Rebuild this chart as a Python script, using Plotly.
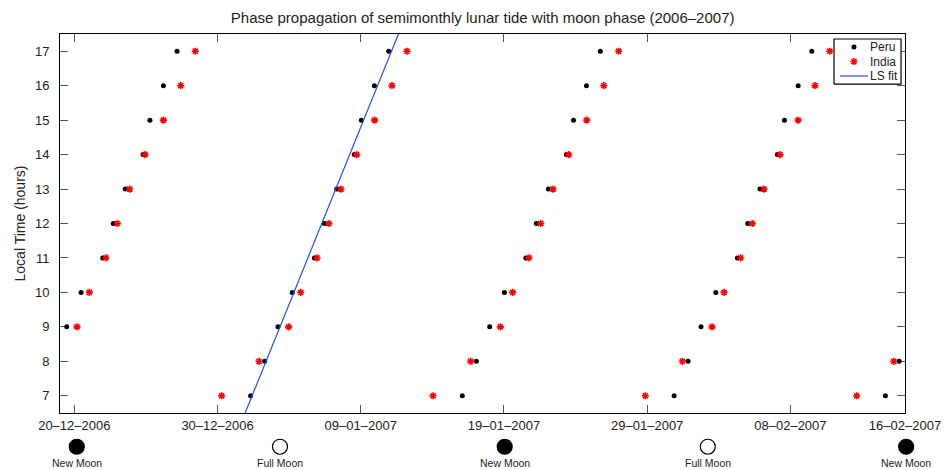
import numpy as np
import pandas as pd
import plotly.graph_objects as go

# Reference date for day offsets
BASE = pd.Timestamp("2006-12-19")
END = pd.Timestamp("2007-02-16")

# Peru: day offset (from BASE) at which each local hour of tide maximum is reached
peru_hours = [9, 10, 11, 12, 13, 14, 15, 16, 17,
              7, 8, 9, 10, 11, 12, 13, 14, 15, 16, 17,
              7, 8, 9, 10, 11, 12, 13, 14, 15, 16, 17,
              7, 8, 9, 10, 11, 12, 13, 14, 15, 16, 17,
              7, 8]
peru_days = [0.47, 1.47, 2.98, 3.72, 4.56, 5.80, 6.28, 7.22, 8.17,
             13.31, 14.29, 15.22, 16.22, 17.76, 18.46, 19.32, 20.55, 21.04, 21.95, 22.95,
             28.09, 29.07, 30.00, 31.03, 32.52, 33.26, 34.10, 35.36, 35.85, 36.76, 37.73,
             42.88, 43.85, 44.76, 45.79, 47.30, 48.02, 48.88, 50.09, 50.58, 51.54, 52.49,
             57.63, 58.59]

# India
india_hours = [9, 10, 11, 12, 13, 14, 15, 16, 17,
               7, 8, 9, 10, 11, 12, 13, 14, 15, 16, 17,
               7, 8, 9, 10, 11, 12, 13, 14, 15, 16, 17,
               7, 8, 9, 10, 11, 12, 13, 14, 15, 16, 17,
               7, 8]
india_days = [1.19, 2.05, 3.21, 4.00, 4.87, 5.94, 7.22, 8.43, 9.45,
              11.29, 13.90, 15.97, 16.81, 17.95, 18.78, 19.62, 20.72, 21.97, 23.18, 24.23,
              26.05, 28.68, 30.75, 31.61, 32.75, 33.57, 34.43, 35.52, 36.78, 37.97, 39.01,
              40.87, 43.46, 45.53, 46.37, 47.53, 48.35, 49.16, 50.28, 51.54, 52.72, 53.75,
              55.63, 58.22]

# Moon phases (day offsets from BASE)
moon_days = [1.17, 15.36, 31.05, 45.23, 59.08]
moon_names = ["New Moon", "Full Moon", "New Moon", "Full Moon", "New Moon"]

# Axis ticks
tick_dates = ["2006-12-20", "2006-12-30", "2007-01-09", "2007-01-19",
              "2007-01-29", "2007-02-08", "2007-02-16"]
tick_text = ["20–12–2006", "30–12–2006", "09–01–2007", "19–01–2007",
             "29–01–2007", "08–02–2007", "16–02–2007"]
hour_ticks = list(range(7, 18))


def to_dates(days):
    return BASE + pd.to_timedelta(np.asarray(days, dtype=float), unit="D")


def to_paper_x(days):
    """Fraction of the time axis span for a day offset (for marks outside the axes)."""
    span = (END - BASE) / pd.Timedelta(days=1)
    return float(days) / span


peru_x = to_dates(peru_days)
india_x = to_dates(india_days)

# Least-squares fit of the Peru sweep over the first full cycle (7..17 h)
fit_days = np.array(peru_days[9:20])
fit_hours = np.array(peru_hours[9:20])
slope, intercept = np.polyfit(fit_days, fit_hours, 1)
line_hours = np.array([5.0, 19.0])
line_x = to_dates((line_hours - intercept) / slope)

FONT = "Liberation Sans, Arial, Helvetica, sans-serif"
TXT = "#222"
PERU_MARKER = dict(symbol="circle", size=5, color="black")
INDIA_MARKER = dict(symbol="asterisk", size=6, color="red",
                    line=dict(color="red", width=1.6))
FIT_LINE = dict(color="#1f4ff5", width=1.2)

fig = go.Figure()
fig.add_trace(go.Scatter(x=peru_x, y=peru_hours, mode="markers", name="Peru",
                         marker=PERU_MARKER))
fig.add_trace(go.Scatter(x=india_x, y=india_hours, mode="markers", name="India",
                         marker=INDIA_MARKER))
fig.add_trace(go.Scatter(x=line_x, y=line_hours, mode="lines", name="LS fit",
                         line=FIT_LINE))

# Compact boxed key in the top-right corner (drawn on a unit overlay axis pair)
box_x0, box_x1 = 0.916, 0.9953
box_y0, box_y1 = 0.868, 0.9868
row_y = [0.9657, 0.9274, 0.8892]
sym_x = 0.9396
seg_x = [0.9231, 0.9562]
text_x = 0.9575
ov = dict(xaxis="x2", yaxis="y2", showlegend=False, hoverinfo="skip")
fig.add_trace(go.Scatter(
    x=[box_x0, box_x1, box_x1, box_x0, box_x0],
    y=[box_y0, box_y0, box_y1, box_y1, box_y0],
    mode="lines", fill="toself", fillcolor="white",
    line=dict(color="black", width=1.2), **ov))
fig.add_trace(go.Scatter(x=[sym_x], y=[row_y[0]], mode="markers",
                         marker=PERU_MARKER, **ov))
fig.add_trace(go.Scatter(x=[sym_x], y=[row_y[1]], mode="markers",
                         marker=INDIA_MARKER, **ov))
fig.add_trace(go.Scatter(x=seg_x, y=[row_y[2]] * 2, mode="lines",
                         line=FIT_LINE, **ov))
for label, ry in zip(["Peru", "India", "LS fit"], row_y):
    fig.add_annotation(x=text_x, y=ry, xref="paper", yref="paper", text=label,
                       showarrow=False, xanchor="left", yanchor="middle",
                       borderpad=0,
                       font=dict(family=FONT, size=12, color=TXT))

# Moon phase symbols beneath the time axis
moon_y = -0.089
label_y = -0.131
for d, name in zip(moon_days, moon_names):
    px = to_paper_x(d)
    new = name.startswith("New")
    fig.add_shape(
        type="circle", xref="paper", yref="paper",
        xsizemode="pixel", ysizemode="pixel",
        xanchor=px, yanchor=moon_y,
        x0=-7.5, x1=7.5, y0=-7.5, y1=7.5,
        fillcolor="black" if new else "white",
        line=dict(color="black", width=1.2),
    )
    fig.add_annotation(
        x=px, y=label_y, xref="paper", yref="paper", text=name,
        showarrow=False, xanchor="center", yanchor="middle",
        font=dict(family=FONT, size=10.5, color=TXT),
    )

axis_common = dict(
    showline=True, linecolor="black", linewidth=1, mirror="allticks",
    ticks="inside", ticklen=8, tickcolor="#555", tickwidth=1,
    showgrid=False, zeroline=False, layer="below traces",
    tickfont=dict(family=FONT, size=13, color=TXT),
)

fig.update_layout(
    width=952, height=470,
    margin=dict(l=60, r=47, t=34, b=57),
    paper_bgcolor="white", plot_bgcolor="white",
    showlegend=False,
    title=dict(
        text="Phase propagation of semimonthly lunar tide with moon phase (2006–2007)",
        x=0.507, xanchor="center", y=0.963, yanchor="middle",
        font=dict(family=FONT, size=15, color=TXT),
    ),
    xaxis=dict(
        type="date",
        range=[BASE, END],
        tickvals=tick_dates, ticktext=tick_text,
        ticklabelstandoff=0,
        **axis_common,
    ),
    yaxis=dict(
        range=[6.5, 17.5], tickvals=hour_ticks,
        ticklabelstandoff=7,
        title=dict(text="Local Time (hours)", standoff=6,
                   font=dict(family=FONT, size=14, color=TXT)),
        **axis_common,
    ),
    xaxis2=dict(overlaying="x", range=[0, 1], visible=False, fixedrange=True),
    yaxis2=dict(overlaying="y", range=[0, 1], visible=False, fixedrange=True),
)

fig.write_html("out.html")
